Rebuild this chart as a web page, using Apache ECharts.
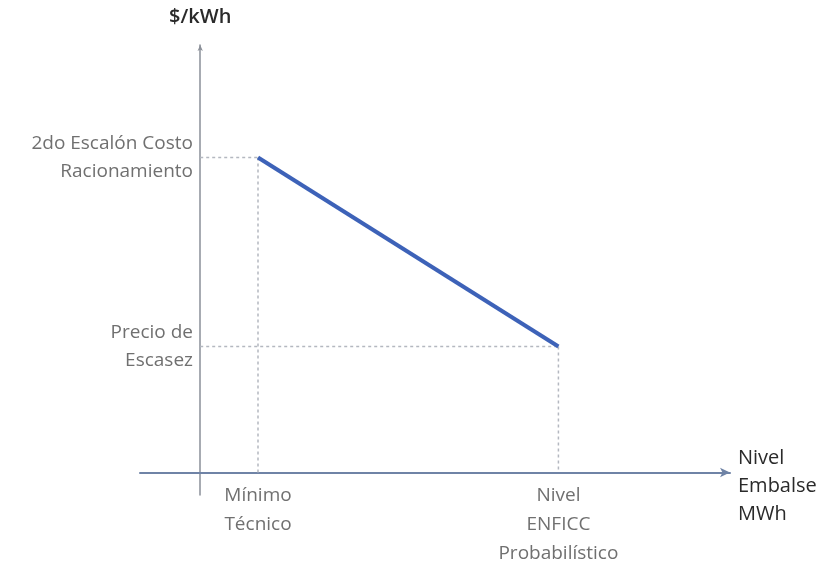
<!DOCTYPE html>
<html>
<head>
<meta charset="utf-8">
<script src="https://cdn.jsdelivr.net/npm/echarts@6/dist/echarts.min.js"></script>
<style>
  html, body { margin: 0; padding: 0; background: #fff; }
  #chart { width: 822px; height: 567px; }
</style>
</head>
<body>
<div id="chart"></div>
<script>
// points on the curve (x: reservoir level, y: price)
const curveX = [9.6, 59.5];
const curveY = [70, 28];

const xTickValues = [9.6, 59.5];
const xTickLabels = ["Mínimo\nTécnico", "Nivel\nENFICC\nProbabilístico"];
const yTickValues = [28, 70];
const yTickLabels = ["Precio de\nEscasez", "2do Escalón Costo\nRacionamiento"];

const FONT = "Open Sans";

function lookup(values, labels) {
  return (v) => {
    const i = values.findIndex((t) => Math.abs(t - v) < 1e-6);
    return i < 0 ? "" : labels[i];
  };
}

const guideStyle = { color: "#b4b8c0", width: 1.5, type: [3, 3] };
const guides = [];
curveX.forEach((x, i) => {
  guides.push([[0, curveY[i]], [x, curveY[i]]]);
  guides.push([[x, curveY[i]], [x, 0]]);
});

const chart = echarts.init(document.getElementById("chart"), null, { renderer: "canvas" });

chart.setOption({
  animation: false,
  backgroundColor: "#fff",
  grid: { left: 140, right: 92, top: 45, bottom: 72, outerBoundsMode: "none" },
  xAxis: {
    type: "value",
    min: -10,
    max: 88,
    // leading blank line pushes the name block below the axis line
    name: "\nNivel\nEmbalse\nMWh",
    nameLocation: "end",
    nameGap: 8,
    nameTextStyle: {
      fontFamily: FONT, fontSize: 20, color: "#2a2a2a", align: "left",
      lineHeight: 28,
    },
    axisLine: {
      lineStyle: { color: "#6f83a6", width: 2 },
      symbol: ["none", "arrow"],
      symbolSize: [7, 10],
    },
    axisTick: { show: false },
    splitLine: { show: false },
    axisLabel: {
      customValues: xTickValues,
      formatter: lookup(xTickValues, xTickLabels),
      margin: -14,
      fontFamily: FONT, fontSize: 19, color: "#707070",
      lineHeight: 29, align: "center",
    },
  },
  yAxis: {
    type: "value",
    min: -5,
    max: 95,
    name: "$/kWh",
    nameLocation: "end",
    nameGap: 18,
    nameTextStyle: { fontFamily: FONT, fontSize: 20, color: "#2a2a2a", fontWeight: 600 },
    axisLine: {
      lineStyle: { color: "#8a8f98", width: 1.5 },
      symbol: ["none", "arrow"],
      symbolSize: [4, 6],
    },
    axisTick: { show: false },
    splitLine: { show: false },
    axisLabel: {
      customValues: yTickValues,
      formatter: lookup(yTickValues, yTickLabels),
      margin: -53,
      fontFamily: FONT, fontSize: 19, color: "#707070",
      lineHeight: 28, align: "right",
    },
  },
  series: [
    ...guides.map((seg) => ({
      type: "line",
      data: seg,
      symbol: "none",
      silent: true,
      lineStyle: guideStyle,
      z: 1,
    })),
    {
      type: "line",
      data: curveX.map((x, i) => [x, curveY[i]]),
      symbol: "none",
      lineStyle: { color: "#3d62b8", width: 4 },
      z: 3,
    },
  ],
});
</script>
</body>
</html>
